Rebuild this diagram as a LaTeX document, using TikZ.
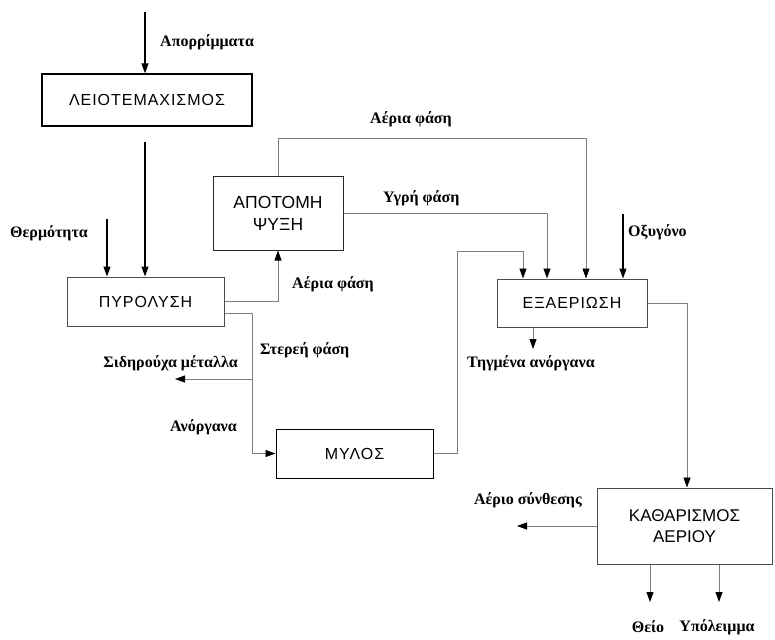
\documentclass[tikz,border=0pt]{standalone}
\usepackage{fontspec}
\setmainfont{Liberation Sans}
\newfontfamily\lblfont{Liberation Serif}
\newfontfamily\boxfont[LetterSpace=6]{Liberation Sans}
\usetikzlibrary{arrows.meta}
\begin{document}
\begin{tikzpicture}[x=1pt,y=-1pt,
  procbox/.style={draw=#1,line width=1pt,rectangle,align=center,inner sep=0pt,
    font=\boxfont\fontsize{16}{19}\selectfont},
  procbox/.default=black!70,
  feed/.style={draw=black,line width=1.2pt,-{Triangle[length=10pt,width=7pt]}},
  conn/.style={draw=black!50,line width=0.8pt,-{Triangle[length=10pt,width=7pt,color=black]}},
  lbl/.style={font=\lblfont\bfseries\fontsize{16}{19}\selectfont,inner sep=0pt,anchor=west}]
\useasboundingbox (0,0) rectangle (775,639);

% process blocks
\node[procbox=black,line width=1.3pt,minimum width=210pt,minimum height=52pt] (leio) at (147,100) {ΛΕΙΟΤΕΜΑΧΙΣΜΟΣ};
\node[procbox,minimum width=157pt,minimum height=49pt] (pyro) at (145.5,301.5) {ΠΥΡΟΛΥΣΗ};
\node[procbox=black!85,minimum width=130pt,minimum height=74pt,font=\fontsize{17.5}{22}\selectfont] (apot) at (278,213) {ΑΠΟΤΟΜΗ\\ΨΥΞΗ};
\node[procbox,minimum width=150pt,minimum height=48pt] (exa) at (572,303) {ΕΞΑΕΡΙΩΣΗ};
\node[procbox=black,minimum width=157pt,minimum height=49pt] (mylos) at (354.5,453.5) {ΜΥΛΟΣ};
\node[procbox,minimum width=175pt,minimum height=76pt,font=\fontsize{17}{21}\selectfont] (kath) at (684.5,526) {ΚΑΘΑΡΙΣΜΟΣ\\ΑΕΡΙΟΥ};

% free ends and bends
\coordinate (in1) at (145,12);
\coordinate (m1) at (145,142);
\coordinate (heat) at (107,219);
\coordinate (g1) at (586,138);
\coordinate (l1) at (547,214);
\coordinate (o1) at (623,214);
\coordinate (r1) at (457,251);
\coordinate (r2) at (523,251);
\coordinate (t1) at (533,349);
\coordinate (k1) at (687,300);
\coordinate (s1) at (517,526);
\coordinate (th) at (650,602);
\coordinate (yp) at (719,602);
\coordinate (sf) at (252,313);
\coordinate (fe) at (252,379);
\coordinate (fe2) at (175,379);

% feeds
\draw[feed] (in1) -- (in1 |- leio.north);
\draw[feed] (m1) -- (m1 |- pyro.north);
\draw[feed] (heat) -- (heat |- pyro.north);
\draw[feed] (o1) -- (o1 |- exa.north);

% internal streams
\draw[conn] (pyro.east) -| (apot.south);
\draw[conn] (apot.north) |- (g1) -- (g1 |- exa.north);
\draw[conn] (apot.east) -| (l1 |- exa.north);
\draw[conn] (mylos.east) -| (r1) -| (r2 |- exa.north);
\draw[conn] (exa.south -| t1) -- (t1);
\draw[conn] (exa.east) -| (k1 |- kath.north);
\draw[conn] (kath.west) -- (s1);
\draw[conn] (th |- kath.south) -- (th);
\draw[conn] (yp |- kath.south) -- (yp);
\draw[conn] (pyro.east |- sf) -- (sf) |- (mylos.west);
\draw[conn] (fe) -- (fe2);

% stream labels
\node[lbl] (lA) at (160,42) {Απορρίμματα};
\node[lbl] (lB) at (10,233) {Θερμότητα};
\node[lbl] (lC) at (370,119) {Αέρια φάση};
\node[lbl] (lD) at (383,198) {Υγρή φάση};
\node[lbl] (lE) at (292,284) {Αέρια φάση};
\node[lbl] (lF) at (628,232) {Οξυγόνο};
\node[lbl] (lG) at (260,350) {Στερεή φάση};
\node[lbl,anchor=east] (lH) at (238,363) {Σιδηρούχα μέταλλα};
\node[lbl,anchor=east] (lI) at (237,427) {Ανόργανα};
\node[lbl] (lJ) at (467,363) {Τηγμένα ανόργανα};
\node[lbl,anchor=east] (lK) at (582,500) {Αέριο σύνθεσης};
\node[lbl,anchor=center] (lL) at (648,627) {Θείο};
\node[lbl,anchor=center] (lM) at (717,627) {Υπόλειμμα};
\end{tikzpicture}
\end{document}
